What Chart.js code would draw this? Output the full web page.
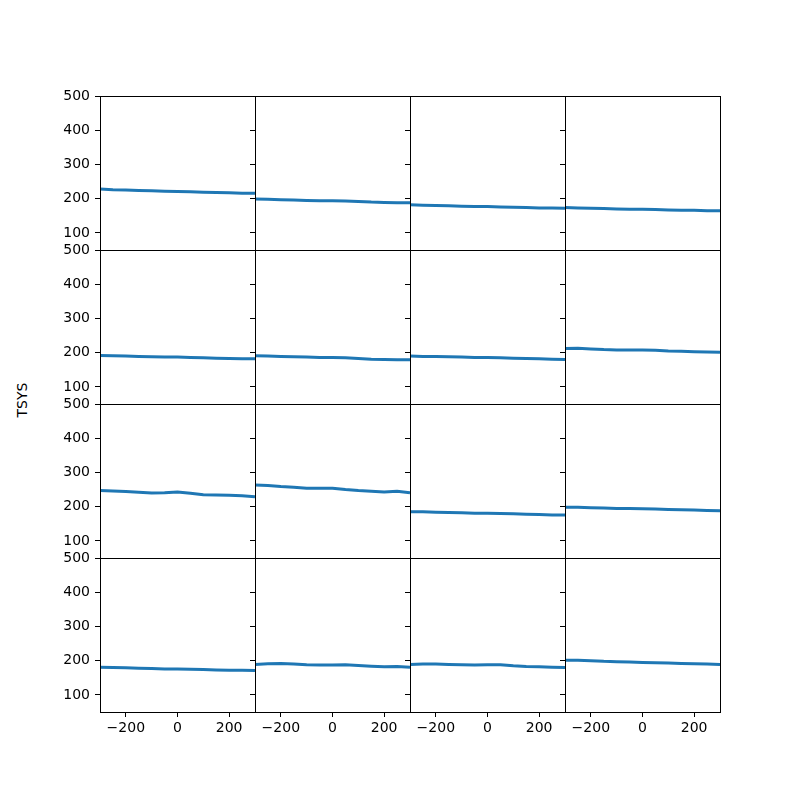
<!DOCTYPE html>
<html>
<head>
<meta charset="utf-8">
<script src="https://cdn.jsdelivr.net/npm/chart.js@4"></script>
<style>
  body { margin: 0; background: #fff; }
  #wrap { position: relative; width: 800px; height: 800px; }
  #wrap canvas { position: absolute; left: 0; top: 0; }
  #ylab {
    position: absolute; left: 22px; top: 400px;
    font-family: "DejaVu Sans"; font-size: 14px; color: #000;
    transform: translate(-50%, -50%) rotate(-90deg);
  }
</style>
</head>
<body>
<div id="wrap"><div id="ylab">TSYS</div></div>
<script>
// x positions shared by every panel
const xValues = [-300, -250, -200, -150, -100, -50, 0, 50, 100, 150, 200, 250, 300];
const xTicks = [-200, 0, 200];
const yTicks = [100, 200, 300, 400, 500];

// one series per panel, row by row
const p11 = [228, 226, 225, 224, 223, 222, 221, 220, 219, 218, 217, 216, 216];
const p12 = [199, 198, 197, 196, 195, 194, 194, 193, 192, 190, 189, 188, 188];
const p13 = [182, 181, 180, 179, 178, 177, 177, 176, 175, 174, 173, 173, 172];
const p14 = [174, 173, 172, 171, 170, 169, 169, 168, 167, 166, 166, 165, 165];
const p21 = [192, 191, 190, 189, 188, 187, 187, 186, 185, 184, 183, 182, 182];
const p22 = [191, 190, 189, 188, 187, 186, 186, 185, 183, 181, 180, 179, 179];
const p23 = [190, 189, 189, 188, 187, 186, 186, 185, 184, 183, 182, 181, 180];
const p24 = [212, 213, 211, 209, 208, 208, 208, 207, 205, 204, 203, 202, 201];
const p31 = [247, 246, 244, 242, 240, 241, 243, 239, 235, 234, 233, 232, 229];
const p32 = [263, 262, 259, 257, 254, 254, 254, 250, 247, 245, 243, 245, 241];
const p33 = [185, 185, 184, 183, 182, 181, 181, 180, 179, 178, 177, 176, 176];
const p34 = [198, 198, 197, 196, 195, 195, 194, 193, 192, 191, 190, 189, 188];
const p41 = [181, 180, 179, 178, 177, 176, 176, 175, 174, 173, 172, 172, 171];
const p42 = [189, 191, 192, 190, 188, 187, 187, 188, 186, 184, 182, 183, 181];
const p43 = [189, 190, 190, 189, 188, 187, 188, 188, 185, 183, 182, 181, 180];
const p44 = [201, 201, 200, 198, 197, 196, 195, 194, 193, 192, 191, 190, 189];

const panels = [
  [p11, p12, p13, p14],
  [p21, p22, p23, p24],
  [p31, p32, p33, p34],
  [p41, p42, p43, p44],
];

const gridLeft = 100, gridTop = 96, cellW = 155, cellH = 154;
const font = { family: "DejaVu Sans", size: 14 };

const frame = {
  id: "frame",
  afterDraw(chart) {
    const a = chart.chartArea;
    const ctx = chart.ctx;
    ctx.save();
    ctx.strokeStyle = "#000";
    ctx.lineWidth = 1;
    ctx.strokeRect(Math.round(a.left) + 0.5, Math.round(a.top) + 0.5,
      Math.round(a.right - a.left), Math.round(a.bottom - a.top));
    ctx.restore();
  },
};

const wrap = document.getElementById("wrap");

panels.forEach((row, r) => {
  row.forEach((vals, c) => {
    const x0 = gridLeft + c * cellW;
    const y0 = gridTop + r * cellH;
    const canvas = document.createElement("canvas");
    canvas.width = 800;
    canvas.height = 800;
    wrap.appendChild(canvas);

    new Chart(canvas, {
      type: "line",
      data: {
        labels: xValues,
        datasets: [
          {
            data: vals.map((v, i) => ({ x: xValues[i], y: v })),
            borderColor: "#1f77b4",
            borderWidth: 3,
            pointRadius: 0,
            tension: 0,
          },
        ],
      },
      plugins: [frame],
      options: {
        responsive: false,
        animation: false,
        events: [],
        layout: {
          padding: {
            left: x0 - 60,
            top: y0,
            right: 800 - (x0 + cellW),
            bottom: 800 - (y0 + cellH) - 40,
          },
        },
        plugins: { legend: { display: false }, tooltip: { enabled: false } },
        scales: {
          x: {
            type: "linear",
            min: -300,
            max: 300,
            afterFit: (s) => { s.height = 40; },
            afterBuildTicks: (s) => { s.ticks = xTicks.map((v) => ({ value: v })); },
            grid: {
              display: r === 3,
              drawOnChartArea: false,
              tickLength: 5,
              tickColor: "#000",
            },
            border: { display: false },
            ticks: {
              display: r === 3,
              color: "#000",
              font: font,
              padding: 3,
              maxRotation: 0,
              callback: (v) => String(v).replace("-", "\u2212"),
            },
          },
          y: {
            type: "linear",
            min: 50,
            max: 500,
            afterFit: (s) => { s.width = 60; },
            afterBuildTicks: (s) => { s.ticks = yTicks.map((v) => ({ value: v })); },
            grid: {
              drawOnChartArea: false,
              tickLength: 5,
              tickColor: "#000",
            },
            border: { display: false },
            ticks: {
              display: c === 0,
              color: "#000",
              font: font,
              padding: 5,
            },
          },
        },
      },
    });
  });
});
</script>
</body>
</html>
